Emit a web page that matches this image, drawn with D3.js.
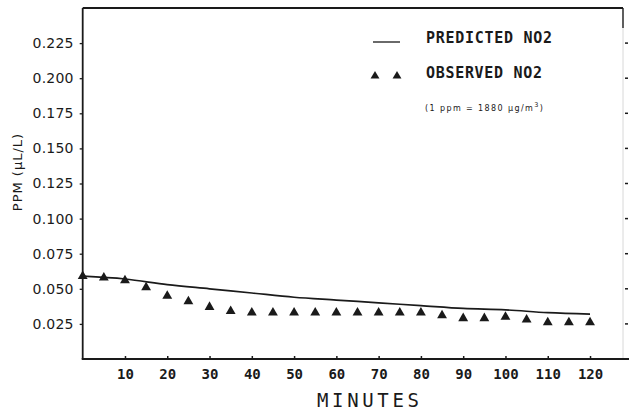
<!DOCTYPE html>
<html>
<head>
<meta charset="utf-8">
<script src="https://cdn.jsdelivr.net/npm/d3@7"></script>
<style>
  html, body { margin: 0; padding: 0; background: #fff; }
  svg { display: block; }
</style>
</head>
<body>
<svg id="chart" width="629" height="412"></svg>
<script>
// ---- data ----
const observedMinutes = [0,5,10,15,20,25,30,35,40,45,50,55,60,65,70,75,80,85,90,95,100,105,110,115,120];
const observedNO2 = [0.059,0.058,0.056,0.051,0.045,0.041,0.037,0.034,0.033,0.033,0.033,0.033,0.033,0.033,0.033,0.033,0.033,0.031,0.029,0.029,0.030,0.028,0.026,0.026,0.026];
const predictedMinutes = [0,10,20,30,40,50,60,70,80,90,100,110,120];
const predictedNO2 = [0.059,0.057,0.053,0.050,0.047,0.044,0.042,0.040,0.038,0.036,0.035,0.033,0.032];
const xTicks = [10,20,30,40,50,60,70,80,90,100,110,120];
const yTicks = [0.025,0.050,0.075,0.100,0.125,0.150,0.175,0.200,0.225];
const legendLabels = ["PREDICTED NO2", "OBSERVED NO2"];
const noteText = "(1 ppm = 1880 \u03BCg/m";

const svg = d3.select("#chart");
const x = d3.scaleLinear().domain([0, 127.8]).range([82.7, 623]);
const y = d3.scaleLinear().domain([0, 0.25]).range([359, 8]);
const ink = "#1a1a1a";

// frame: top and right
svg.append("line").attr("x1", x(0)).attr("x2", 623).attr("y1", 8).attr("y2", 8)
  .attr("stroke", ink).attr("stroke-width", 1.8);
svg.append("line").attr("x1", 623).attr("x2", 623).attr("y1", 8).attr("y2", 28)
  .attr("stroke", ink).attr("stroke-width", 1.4);
svg.append("line").attr("x1", 623).attr("x2", 623).attr("y1", 28).attr("y2", 359)
  .attr("stroke", "#d8d8d8").attr("stroke-width", 1);
// right side tick dots
svg.append("g").selectAll("line").data(yTicks).join("line")
  .attr("x1", 625).attr("x2", 628).attr("y1", d => y(d)).attr("y2", d => y(d))
  .attr("stroke", ink).attr("stroke-width", 1.5);

// y axis
const yAxis = svg.append("g").attr("transform", `translate(${x(0)},0)`)
  .call(d3.axisLeft(y).tickValues(yTicks).tickSize(3).tickPadding(6).tickFormat(d3.format(".3f")));
yAxis.select(".domain").attr("d", `M0,${8}V${359}`).attr("stroke", ink).attr("stroke-width", 1.8);
yAxis.selectAll(".tick line").attr("stroke", ink).attr("stroke-width", 1.3);
yAxis.selectAll(".tick text").attr("font-family", "DejaVu Sans").attr("font-size", 14)
  .attr("fill", ink).attr("letter-spacing", 0.2);

// x axis
const xAxis = svg.append("g").attr("transform", `translate(0,${y(0)})`)
  .call(d3.axisBottom(x).tickValues(xTicks).tickSize(0).tickPadding(10).tickFormat(d3.format("d")));
xAxis.select(".domain").attr("d", `M${x(0)-1},0H629`).attr("stroke", ink).attr("stroke-width", 1.8);
xAxis.selectAll(".tick").append("line").attr("y1", 0).attr("y2", -3)
  .attr("stroke", ink).attr("stroke-width", 1.5);
xAxis.selectAll(".tick text").attr("font-family", "DejaVu Sans Mono").attr("font-weight", "bold")
  .attr("font-size", 14).attr("fill", ink);

// axis titles
svg.append("text").attr("x", 317).attr("y", 407)
  .attr("font-family", "DejaVu Sans Mono").attr("font-size", 19).attr("fill", ink)
  .attr("textLength", 102).attr("lengthAdjust", "spacing").text("MINUTES");
svg.append("text").attr("transform", "translate(22,172) rotate(-90)")
  .attr("text-anchor", "middle").attr("font-family", "DejaVu Sans").attr("font-size", 13)
  .attr("fill", ink).attr("letter-spacing", 1).text("PPM (\u03BCL/L)");

// predicted line
const line = d3.line().x((d, i) => x(predictedMinutes[i])).y(d => y(d)).curve(d3.curveMonotoneX);
svg.append("path").datum(predictedNO2).attr("d", line)
  .attr("fill", "none").attr("stroke", ink).attr("stroke-width", 1.7);

// observed triangles
const tri = d3.symbol().type(d3.symbolTriangle).size(42);
svg.append("g").selectAll("path").data(observedNO2).join("path")
  .attr("d", tri)
  .attr("transform", (d, i) => `translate(${x(observedMinutes[i])},${y(d)})`)
  .attr("fill", ink);

// legend
const triSmall = d3.symbol().type(d3.symbolTriangle).size(34);
svg.append("line").attr("x1", 373).attr("x2", 400).attr("y1", 42).attr("y2", 42)
  .attr("stroke", "#444").attr("stroke-width", 1.6);
[375, 397].forEach(cx => {
  svg.append("path").attr("d", triSmall).attr("transform", `translate(${cx},76)`).attr("fill", ink);
});
svg.append("text").attr("x", 426).attr("y", 43)
  .attr("font-family", "DejaVu Sans Mono").attr("font-weight", "bold").attr("font-size", 15)
  .attr("fill", ink).attr("textLength", 126).attr("lengthAdjust", "spacing").text(legendLabels[0]);
svg.append("text").attr("x", 426).attr("y", 78)
  .attr("font-family", "DejaVu Sans Mono").attr("font-weight", "bold").attr("font-size", 15)
  .attr("fill", ink).attr("textLength", 116).attr("lengthAdjust", "spacing").text(legendLabels[1]);
const note = svg.append("text").attr("x", 425).attr("y", 111)
  .attr("font-family", "DejaVu Sans").attr("font-size", 8).attr("letter-spacing", 1.4).attr("fill", ink);
note.append("tspan").text(noteText);
note.append("tspan").attr("dy", -4).attr("font-size", 6.5).text("3");
note.append("tspan").attr("dy", 4).text(")");
</script>
</body>
</html>
